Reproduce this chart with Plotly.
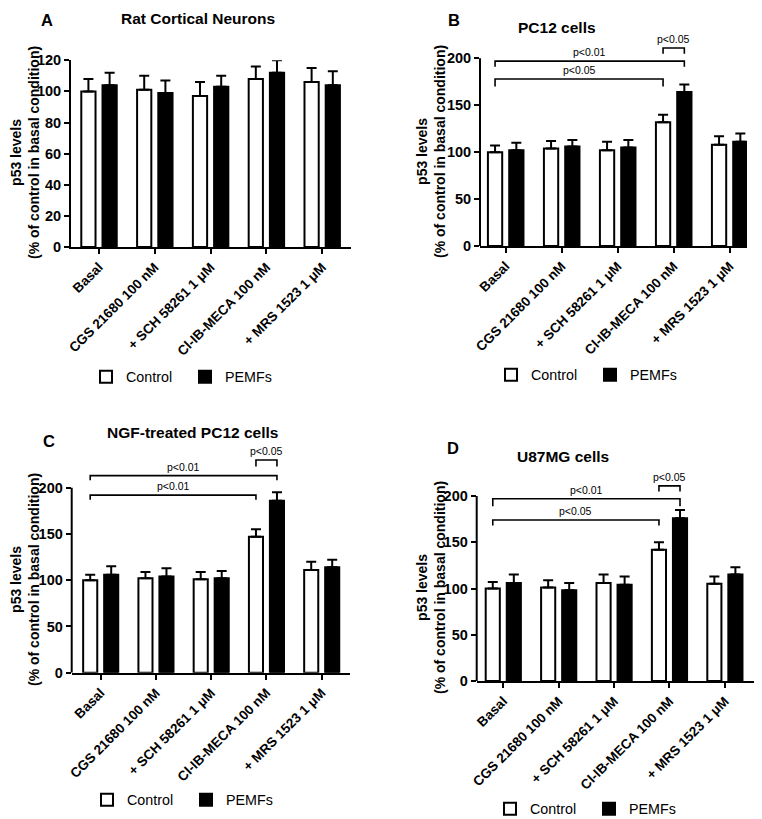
import plotly.graph_objects as go

# ---------------- data ----------------
categories = ["Basal", "CGS 21680 100 nM", "+ SCH 58261 1 μM",
              "Cl-IB-MECA 100 nM", "+ MRS 1523 1 μM"]
series_names = ["Control", "PEMFs"]

a_control = [100, 101, 97, 108, 106]
a_control_err = [8, 9, 9, 8, 9]
a_pemf = [104, 99, 103, 112, 104]
a_pemf_err = [8, 8, 7, 8, 9]

b_control = [100, 104, 102, 132, 108]
b_control_err = [7, 8, 9, 8, 9]
b_pemf = [102, 106, 105, 164, 111]
b_pemf_err = [8, 7, 8, 8, 9]

c_control = [100, 102, 101, 147, 111]
c_control_err = [6, 7, 8, 8, 9]
c_pemf = [106, 104, 102, 186, 114]
c_pemf_err = [9, 9, 8, 9, 8]

d_control = [100, 101, 106, 142, 105]
d_control_err = [7, 8, 9, 8, 8]
d_pemf = [106, 98, 104, 176, 115]
d_pemf_err = [9, 8, 9, 9, 8]

titles = ["Rat Cortical Neurons", "PC12 cells", "NGF-treated PC12 cells", "U87MG cells"]
letters = ["A", "B", "C", "D"]
y_ticks_a = [0, 20, 40, 60, 80, 100, 120]
y_ticks_bcd = [0, 50, 100, 150, 200]

# significance brackets: (from cat, from series, to cat, to series, y top, y foot, label)
b_brackets = [(0, 0, 3, 1, 197, 191, "p<0.01"),
              (0, 0, 3, 0, 178, 170, "p<0.05"),
              (3, 0, 3, 1, 211, 205, "p<0.05")]
c_brackets = [(0, 0, 3, 1, 213, 208, "p<0.01"),
              (0, 0, 3, 0, 192, 187, "p<0.01"),
              (3, 0, 3, 1, 230, 223, "p<0.05")]
d_brackets = [(0, 0, 3, 1, 197, 189, "p<0.01"),
              (0, 0, 3, 0, 174, 168, "p<0.05"),
              (3, 0, 3, 1, 211, 205, "p<0.05")]

# ---------------- layout / style ----------------
W, H = 762, 819
PAGE_OFFSET = 8  # default page margin around the plot div
FONT = "Liberation Sans, Arial, Helvetica, sans-serif"
BAR_W = 0.255
CENTERS = [-0.19, 0.19]  # bar centre offset for Control / PEMFs
FILLS = ["white", "black"]


def px(x):
    return (x - PAGE_OFFSET) / W


def py(y):
    return 1 - (y - PAGE_OFFSET) / H


panels = [
    dict(ctrl=a_control, ctrl_err=a_control_err, pemf=a_pemf, pemf_err=a_pemf_err,
         yticks=y_ticks_a, yaxis_top=120, yrange=[0, 120], brackets=[],
         xdom=[71, 351], ydom=[60.3, 247], xrange=[-0.502, 4.516],
         letter_pos=(47, 20), title_pos=(198, 19), ytitle_pos=(25, 153),
         legend_pos=(86, 377)),
    dict(ctrl=b_control, ctrl_err=b_control_err, pemf=b_pemf, pemf_err=b_pemf_err,
         yticks=y_ticks_bcd, yaxis_top=200, yrange=[0, 240], brackets=b_brackets,
         xdom=[480, 747], ydom=[20.8, 246], xrange=[-0.459, 4.309],
         letter_pos=(454, 20), title_pos=(557, 27), ytitle_pos=(431, 152),
         legend_pos=(491, 375)),
    dict(ctrl=c_control, ctrl_err=c_control_err, pemf=c_pemf, pemf_err=c_pemf_err,
         yticks=y_ticks_bcd, yaxis_top=200, yrange=[0, 240], brackets=c_brackets,
         xdom=[71.7, 350], ydom=[450.7, 672.7], xrange=[-0.525, 4.512],
         letter_pos=(49, 441), title_pos=(192, 432), ytitle_pos=(25, 580),
         legend_pos=(87, 800)),
    dict(ctrl=d_control, ctrl_err=d_control_err, pemf=d_pemf, pemf_err=d_pemf_err,
         yticks=y_ticks_bcd, yaxis_top=200, yrange=[0, 240], brackets=d_brackets,
         xdom=[476.7, 760], ydom=[459, 681], xrange=[-0.480, 4.634],
         letter_pos=(453, 448), title_pos=(563, 456), ytitle_pos=(431, 588),
         legend_pos=(490, 809)),
]

fig = go.Figure()
shapes = []
annotations = []
xcat = list(range(len(categories)))

for i, p in enumerate(panels):
    n = "" if i == 0 else str(i + 1)
    xa, ya = "x" + n, "y" + n
    legend_id = "legend" + n
    values = [(p["ctrl"], p["ctrl_err"]), (p["pemf"], p["pemf_err"])]
    for s, (vals, errs) in enumerate(values):
        fig.add_trace(go.Bar(
            x=xcat, y=vals, name=series_names[s],
            width=BAR_W, offset=CENTERS[s] - BAR_W / 2,
            marker=dict(color=FILLS[s], line=dict(color="black", width=2)),
            error_y=dict(type="data", array=errs, arrayminus=[0] * len(errs),
                         symmetric=False, color="black", thickness=2, width=5),
            xaxis=xa, yaxis=ya, legend=legend_id, showlegend=True,
        ))

    layout_x = dict(
        domain=[px(p["xdom"][0]), px(p["xdom"][1])], range=p["xrange"],
        anchor=ya, tickmode="array", tickvals=xcat, ticktext=categories,
        tickangle=-45, ticks="outside", ticklen=5, tickwidth=2, tickcolor="black",
        showline=True, linewidth=2, linecolor="black", showgrid=False, zeroline=False,
        automargin=False,
        tickfont=dict(family=FONT, size=13.5, color="black", weight="bold"),
    )
    separate_line = p["yaxis_top"] < p["yrange"][1]
    layout_y = dict(
        domain=[py(p["ydom"][1]), py(p["ydom"][0])], range=p["yrange"],
        anchor=xa, tickmode="array", tickvals=p["yticks"],
        ticks="outside", ticklen=5, tickwidth=2, tickcolor="black",
        showline=not separate_line, linewidth=2, linecolor="black",
        showgrid=False, zeroline=False, automargin=False,
        tickfont=dict(family=FONT, size=14.5, color="black", weight="bold"),
    )
    fig.update_layout(**{"xaxis" + n: layout_x, "yaxis" + n: layout_y})

    if separate_line:
        shapes.append(dict(type="line", xref=xa + " domain", yref=ya,
                           x0=0, x1=0, y0=0, y1=p["yaxis_top"],
                           line=dict(color="black", width=2)))

    for (c0, s0, c1, s1, ytop, yfoot, label) in p["brackets"]:
        x0 = c0 + CENTERS[s0]
        x1 = c1 + CENTERS[s1]
        shapes.append(dict(type="path", xref=xa, yref=ya,
                           path=f"M {x0},{yfoot} L {x0},{ytop} L {x1},{ytop} L {x1},{yfoot}",
                           line=dict(color="black", width=1.6)))
        annotations.append(dict(x=(x0 + x1) / 2, y=ytop, xref=xa, yref=ya,
                                text=label, showarrow=False, yanchor="bottom",
                                yshift=1, font=dict(family=FONT, size=10.5, color="black")))

    lx, ly = p["letter_pos"]
    annotations.append(dict(x=px(lx), y=py(ly), xref="paper", yref="paper",
                            text="<b>" + letters[i] + "</b>", showarrow=False,
                            xanchor="center", yanchor="middle",
                            font=dict(family=FONT, size=16.5, color="black")))
    tx, ty = p["title_pos"]
    annotations.append(dict(x=px(tx), y=py(ty), xref="paper", yref="paper",
                            text="<b>" + titles[i] + "</b>", showarrow=False,
                            xanchor="center", yanchor="middle",
                            font=dict(family=FONT, size=15.5, color="black")))
    yx, yy = p["ytitle_pos"]
    annotations.append(dict(x=px(yx), y=py(yy), xref="paper", yref="paper",
                            text="<b>p53 levels</b><br><b>(% of control in basal condition)</b>",
                            showarrow=False, textangle=-90,
                            xanchor="center", yanchor="middle",
                            font=dict(family=FONT, size=14, color="black")))

    gx, gy = p["legend_pos"]
    fig.update_layout(**{legend_id: dict(
        orientation="h", x=px(gx), y=py(gy), xanchor="left", yanchor="middle",
        xref="paper", yref="paper", bgcolor="rgba(0,0,0,0)",
        font=dict(family=FONT, size=14.3, color="black"),
        entrywidth=54, itemclick=False, itemdoubleclick=False,
    )})

fig.update_layout(
    width=W, height=H, margin=dict(l=0, r=0, t=0, b=0, autoexpand=False),
    paper_bgcolor="white", plot_bgcolor="white",
    barmode="overlay", shapes=shapes, annotations=annotations,
    font=dict(family=FONT, color="black"),
)

fig.write_html("out.html")
